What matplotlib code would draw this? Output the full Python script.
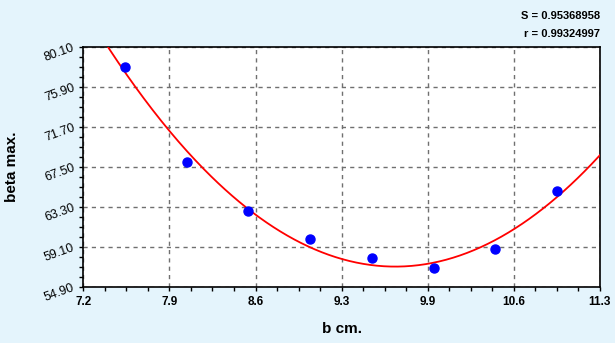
import numpy as np
import matplotlib.pyplot as plt
from matplotlib.ticker import FixedLocator, AutoMinorLocator

b_cm = [7.53, 8.02, 8.51, 9.00, 9.49, 9.98, 10.47, 10.96]
beta_max = [78.0, 68.0, 62.9, 59.9, 57.9, 56.9, 58.9, 64.9]

x_ticks = [7.2, 7.9, 8.6, 9.3, 9.9, 10.6, 11.3]
y_ticks = [54.90, 59.10, 63.30, 67.50, 71.70, 75.90, 80.10]
stats = ["S = 0.95368958", "r = 0.99324997"]

bg = "#E4F4FC"
plt.rcParams['font.family'] = ['Liberation Sans', 'DejaVu Sans']

fig = plt.figure(figsize=(6.15, 3.43), dpi=100, facecolor=bg)
ax = fig.add_axes([0.1355, 0.164, 0.840, 0.700])

# quadratic fit through the points
coef = np.polyfit(b_cm, beta_max, 2)
xf = np.linspace(7.2, 11.3, 300)
ax.plot(xf, np.polyval(coef, xf), color="red", lw=1.3, zorder=3)
ax.plot(b_cm, beta_max, "o", color="blue", ms=6.5, zorder=4)

ax.set_xlim(7.2, 11.3)
ax.set_ylim(54.9, 80.1)
# x ticks are evenly spaced (4.1/6) but labelled to one decimal
xpos = np.linspace(7.2, 11.3, len(x_ticks))
ax.xaxis.set_major_locator(FixedLocator(xpos))
ax.set_xticklabels([f"{v:.1f}" for v in x_ticks], fontweight="bold", fontsize=8.5)
ax.set_yticks(y_ticks)
ax.set_yticklabels([f"{v:.2f}" for v in y_ticks], rotation=20, fontsize=9)
ax.xaxis.set_minor_locator(AutoMinorLocator(4))
ax.yaxis.set_minor_locator(AutoMinorLocator(4))
ax.tick_params(which="both", direction="out", length=3, width=1, color="black")
ax.tick_params(axis="x", pad=4)
ax.tick_params(axis="y", pad=2)

ax.grid(True, which="major", ls=(0, (3, 3)), color="#707070", lw=1)
for s in ax.spines.values():
    s.set_linewidth(1.2)

ax.set_xlabel("b cm.", fontsize=11, fontweight="bold", labelpad=10)
ax.set_ylabel("beta max.", fontsize=11, fontweight="bold", labelpad=17)

fig.text(0.976, 0.952, stats[0], ha="right", va="center", fontsize=8, fontweight="bold")
fig.text(0.976, 0.900, stats[1], ha="right", va="center", fontsize=8, fontweight="bold")

fig.savefig("out.png", dpi=100, facecolor=bg)
